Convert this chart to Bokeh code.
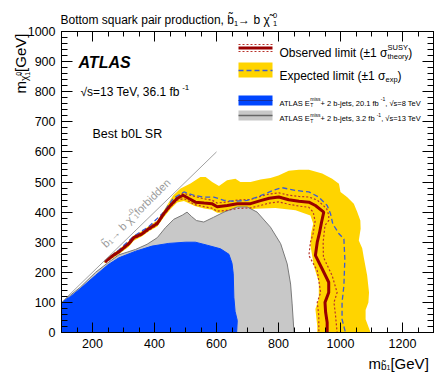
import math
from bokeh.plotting import figure
from bokeh.models import Label, Range1d, LinearAxis, SingleIntervalTicker
from bokeh.embed import file_html
from bokeh.resources import INLINE

# ---------------- data (GeV) ----------------
x_range = (100, 1300)
y_range = (0, 1000)

diag_x = [100, 600]
diag_y = [100, 600]

gray_x = [100, 100, 160, 210, 250, 285, 339, 376, 409, 435, 462, 490, 505, 520, 535, 559, 591, 624, 667, 699, 731, 774, 807, 828, 839, 844, 850]
gray_y = [0, 100, 150, 200, 232, 258, 276, 293, 315, 348, 376, 390, 400, 385, 372, 367, 383, 400, 417, 417, 400, 350, 295, 228, 161, 95, 0]

blue_x = [100, 100, 130, 160, 210, 250, 285, 339, 392, 446, 500, 532, 570, 613, 640, 650, 654, 656, 660, 667, 665]
blue_y = [0, 100, 120, 145, 190, 225, 248, 270, 287, 296, 300, 300, 290, 278, 260, 230, 195, 117, 70, 40, 0]

band_up_x = [238, 265, 285, 317, 333, 360, 382, 409, 430, 445, 460, 484, 516, 548, 565, 586, 608, 634, 661, 677, 710, 742, 774, 800, 833, 866, 898, 941, 973, 995, 1000, 1021, 1043, 1054, 1064, 1065, 1059, 1070, 1075, 1086, 1092, 1090, 1081, 1081, 1097]
band_up_y = [238, 262, 276, 303, 322, 337, 354, 372, 405, 430, 455, 478, 495, 517, 517, 500, 487, 506, 511, 500, 500, 508, 513, 522, 537, 541, 541, 528, 511, 494, 467, 450, 428, 400, 372, 345, 306, 280, 250, 189, 133, 100, 75, 44, 0]
band_lo_x = [925, 925, 919, 930, 930, 914, 903, 905, 912, 903, 855, 790, 726, 710, 667, 635, 602, 585, 560, 530, 495, 473, 452, 430, 409, 382, 360, 333, 317, 285, 265, 238]
band_lo_y = [0, 22, 78, 111, 167, 222, 289, 330, 361, 389, 406, 414, 411, 408, 405, 398, 398, 408, 412, 420, 437, 432, 410, 383, 352, 336, 320, 305, 285, 260, 247, 230]

exp_x = [240, 285, 333, 382, 430, 460, 495, 527, 559, 591, 624, 656, 699, 731, 764, 790, 812, 855, 898, 930, 957, 968, 975, 995, 1011, 1014, 1011, 1005, 1005, 1016]
exp_y = [237, 274, 320, 352, 400, 445, 467, 456, 450, 450, 439, 436, 439, 450, 464, 475, 481, 472, 467, 450, 422, 394, 361, 328, 311, 244, 156, 100, 44, 0]

obs_x = [240, 265, 285, 317, 333, 360, 382, 409, 430, 452, 473, 492, 511, 532, 560, 585, 602, 635, 667, 710, 742, 770, 801, 833, 866, 898, 919, 946, 939, 932, 925, 919, 941, 962, 962, 950, 952, 957, 957]
obs_y = [235, 255, 268, 295, 315, 328, 345, 362, 395, 423, 445, 456, 445, 433, 430, 428, 418, 422, 428, 428, 438, 446, 450, 441, 436, 433, 422, 400, 367, 330, 300, 256, 211, 167, 133, 100, 67, 33, 0]

obs_up_x = [238, 265, 285, 317, 333, 360, 382, 409, 430, 452, 473, 492, 530, 560, 585, 602, 635, 667, 710, 742, 770, 801, 833, 866, 898, 925, 955, 962, 962, 950, 944, 945, 973, 989, 979, 984, 989]
obs_up_y = [236, 259, 272, 299, 319, 332, 350, 367, 400, 428, 450, 463, 452, 444, 440, 430, 434, 440, 442, 452, 460, 464, 456, 452, 450, 440, 412, 390, 372, 356, 300, 250, 189, 133, 100, 56, 0]

obs_dn_x = [242, 265, 285, 317, 333, 360, 382, 409, 430, 452, 473, 495, 530, 560, 585, 602, 635, 667, 710, 742, 770, 801, 833, 866, 898, 912, 918, 912, 903, 898, 925, 936, 925, 930, 930]
obs_dn_y = [232, 251, 264, 291, 311, 324, 340, 357, 390, 418, 440, 445, 425, 418, 413, 403, 406, 412, 414, 422, 430, 434, 426, 420, 416, 400, 370, 330, 300, 256, 205, 133, 100, 56, 0]

# ---------------- colours ----------------
YELLOW = "#ffd400"
BLUE = "#0046ff"
GRAY = "#c8c8c8"
RED = "#990000"
DOT = "#b8322a"
DASH = "#3b5bd6"
FONT = "Liberation Sans"

# ---------------- page geometry ----------------
W, H = 437, 373
FL, FR, FT, FB = 61, 433, 31, 332   # frame in page pixels

p = figure(width=W, height=H, output_backend="svg", toolbar_location=None,
           x_range=Range1d(*x_range), y_range=Range1d(*y_range),
           min_border_left=FL, min_border_right=W - FR,
           min_border_top=FT, min_border_bottom=H - FB,
           background_fill_color="white", border_fill_color="white")
p.margin = (0, 0, 0, 0)
p.grid.visible = False
p.outline_line_color = "black"
p.outline_line_width = 1


def style_axis(ax, interval, nminor, tin, mtin, show_labels, lo, hi):
    ax.ticker = SingleIntervalTicker(interval=interval, num_minor_ticks=nminor)
    ax.major_tick_in = tin
    ax.major_tick_out = 0
    ax.minor_tick_in = mtin
    ax.minor_tick_out = 0
    ax.axis_line_color = "black"
    ax.major_tick_line_color = "black"
    ax.minor_tick_line_color = "black"
    ax.major_label_text_font = FONT
    if show_labels:
        ax.major_label_text_font_size = "12.5px"
        ax.major_label_text_color = "black"
    else:
        ax.major_label_overrides = {v: "" for v in range(lo, hi + 1, interval)}
        ax.major_label_text_font_size = "1px"
        ax.major_label_standoff = 0


style_axis(p.xaxis[0], 200, 4, 10, 5, True, 0, 1400)
style_axis(p.yaxis[0], 100, 5, 11, 6, True, 0, 1000)
p.xaxis[0].major_label_standoff = 6
p.yaxis[0].major_label_standoff = 6

top_ax = LinearAxis()
style_axis(top_ax, 200, 4, 10, 5, False, 0, 1400)
p.add_layout(top_ax, "above")
right_ax = LinearAxis()
style_axis(right_ax, 100, 5, 11, 6, False, 0, 1000)
p.add_layout(right_ax, "right")

# ---------------- regions and lines ----------------
p.patch(band_up_x + band_lo_x, band_up_y + band_lo_y, fill_color=YELLOW, line_color=None)
p.patch(gray_x, gray_y, fill_color=GRAY, line_color="#7a7a7a", line_width=1)
p.patch(blue_x, blue_y, fill_color=BLUE, line_color=BLUE, line_width=1)
p.line(obs_up_x, obs_up_y, line_color=DOT, line_width=1.2, line_dash="2 2")
p.line(obs_dn_x, obs_dn_y, line_color=DOT, line_width=1.2, line_dash="2 2")
p.line(exp_x, exp_y, line_color=DASH, line_width=1.3, line_dash="5 3")
p.line(obs_x, obs_y, line_color=RED, line_width=3)
p.line(diag_x, diag_y, line_color="#a0a0a0", line_width=1)

# ---------------- transparent overlay for texts / legend (page pixels) ----------------
q = figure(width=W, height=H, output_backend="svg", toolbar_location=None,
           x_range=Range1d(0, W), y_range=Range1d(0, H),
           x_axis_type=None, y_axis_type=None,
           min_border_left=0, min_border_right=0, min_border_top=0, min_border_bottom=0,
           background_fill_color=None, border_fill_color=None)
q.outline_line_color = None
q.grid.visible = False
q.margin = (-H, 0, 0, 0)

AW = {' ': 278, '!': 278, '(': 333, ')': 333, '+': 584, ',': 278, '-': 333, '.': 278,
      '/': 278, '=': 584, '[': 278, ']': 278, '\u00b1': 584, '\u03c3': 580, '\u03c7': 520,
      '\u221a': 549, '\u2192': 1000, '\u0303': 0,
      'A': 667, 'B': 667, 'C': 722, 'D': 722, 'E': 667, 'F': 611, 'G': 778, 'H': 722,
      'I': 278, 'J': 500, 'K': 667, 'L': 556, 'M': 833, 'N': 722, 'O': 778, 'P': 667,
      'Q': 778, 'R': 722, 'S': 667, 'T': 611, 'U': 722, 'V': 667, 'W': 944, 'X': 667,
      'Y': 667, 'Z': 611, 'a': 556, 'b': 556, 'c': 500, 'd': 556, 'e': 556, 'f': 278,
      'g': 556, 'h': 556, 'i': 222, 'j': 222, 'k': 500, 'l': 222, 'm': 833, 'n': 556,
      'o': 556, 'p': 556, 'q': 556, 'r': 333, 's': 500, 't': 278, 'u': 556, 'v': 500,
      'w': 722, 'x': 500, 'y': 500, 'z': 500}


def tw(s, size):
    return sum(AW.get(c, 556) for c in s) * size / 1000.0


def rich(segs, px, py, ang=0.0, color="black", style="normal"):
    ca, sa = math.cos(ang), math.sin(ang)
    adv = 0.0
    for seg in segs:
        text, size, off = seg[0], seg[1], seg[2]
        move = seg[3] if len(seg) > 3 else True
        x = px + adv * ca - off * sa
        y = py - adv * sa - off * ca
        q.add_layout(Label(x=x, y=H - y, text=text, text_font=FONT,
                           text_font_size=f"{size}px", text_color=color,
                           text_font_style=style, angle=ang,
                           text_align="left", text_baseline="alphabetic"))
        if move:
            adv += tw(text, size)


# title
rich([("Bottom squark pair production, b\u0303", 12, 0), ("1", 7.5, -3),
      (" \u2192 b \u03c7\u0303", 12, 0), ("0", 7.5, 5, False), ("1", 7.5, -3)], 60, 19.5)

# axis titles
rich([("m", 15, 0), ("b\u0303", 10, -3), ("1", 7, -4.5), (" [GeV]", 15, 0)], 368, 362.5)
rich([("m", 15, 0), ("\u03c7\u0303", 10, -4), ("0", 7, 2, False), ("1", 7, -7), (" [GeV]", 15, 0)],
     20, 93, ang=math.pi / 2)

# ATLAS labels
rich([("ATLAS", 16, 0)], 78, 61.5, style="bold italic")
rich([("\u221as=13 TeV, 36.1 fb", 12, 0), ("-1", 8, 5)], 80, 91.5)
rich([("Best b0L SR", 12.5, 0)], 92, 133)

# forbidden label
rich([("b\u0303", 11, 0), ("1", 7, -2.5), (" \u2192 b \u03c7\u0303", 11, 0), ("0", 7, 5, False),
      ("1", 7, -2.5), (" forbidden", 11, 0)], 103, 245, ang=math.radians(45), color="#9a9a9a")

# ---------------- legend ----------------
LX0, LX1 = 238, 272


def hseg(py, color, width, dash="solid"):
    q.segment(x0=[LX0], y0=[H - py], x1=[LX1], y1=[H - py], line_color=color,
              line_width=width, line_dash=dash)


def box(pt, pb, color):
    q.quad(left=[LX0], right=[LX1], top=[H - pt], bottom=[H - pb], fill_color=color, line_color=None)


hseg(44, DOT, 1.2, "2 2")
hseg(51, DOT, 1.2, "2 2")
hseg(47.5, RED, 3)
rich([("Observed limit (\u00b11 \u03c3", 12, 0), ("SUSY", 7.5, 5.5, False), ("theory", 7.5, -3.5), (")", 12, 0)], 279, 52)

box(62, 77, YELLOW)
hseg(70, DASH, 1.3, "5 3")
rich([("Expected limit (\u00b11 \u03c3", 12, 0), ("exp", 7.5, -3.5), (")", 12, 0)], 279, 75)

box(95, 105, BLUE)
hseg(100, "#1a2f99", 1)
rich([("ATLAS E", 7.5, 0), ("T", 5, -2, False), ("miss", 5, 4), (" + 2 b-jets, 20.1 fb", 7.5, 0),
      ("-1", 5, 4), (", \u221as=8 TeV", 7.5, 0)], 279, 102.5)

box(110, 120, GRAY)
hseg(115, "#666666", 1.5)
rich([("ATLAS E", 7.5, 0), ("T", 5, -2, False), ("miss", 5, 4), (" + 2 b-jets, 3.2 fb", 7.5, 0),
      ("-1", 5, 4), (", \u221as=13 TeV", 7.5, 0)], 279, 118)

open("out.html", "w").write(file_html([p, q], INLINE))
